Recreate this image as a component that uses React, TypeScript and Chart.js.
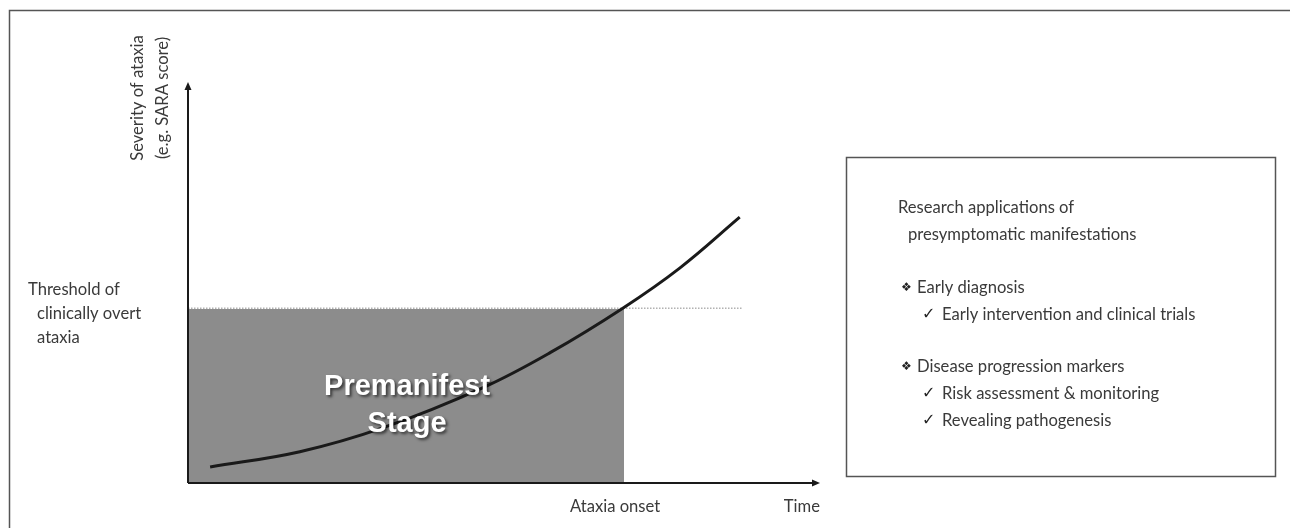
import React, { useEffect, useRef } from "react";
import { Chart, registerables } from "chart.js";

Chart.register(...registerables);

// ---- data ----
const timeValues = [3.5, 17.7, 30.9, 46.7, 57.3, 68.8, 77.8, 87.3];
const severityValues = [4.0, 7.8, 13.8, 23.8, 32.5, 43.6, 53.6, 66.3];
const thresholdSeverity = 43.6;
const onsetTime = 69;
const thresholdLineEnd = 87.8;
const xTickValues = [onsetTime, 100];
const xTickLabels = ["Ataxia onset", "Time"];
const yTitleLines = ["Severity of ataxia", "(e.g. SARA score)"];
const thresholdLabelLines = ["Threshold of", "clinically overt", "ataxia"];
const stageLabelLines = ["Premanifest", "Stage"];
const boxHeadingLines = ["Research applications of", "presymptomatic manifestations"];
const groupTitles = ["Early diagnosis", "Disease progression markers"];
const groupOneItems = ["Early intervention and clinical trials"];
const groupTwoItems = ["Risk assessment & monitoring", "Revealing pathogenesis"];

const FONT = "Lato, 'DejaVu Sans', sans-serif";
const TEXT = "#3a3a3a";
const TEXT_FONT = `400 16.6px ${FONT}`;

const overlayPlugin = {
  id: "overlay",
  afterDatasetsDraw(chart: any) {
    const ctx = chart.ctx as CanvasRenderingContext2D;
    const x = chart.scales.x;
    const y = chart.scales.y;
    const left = x.getPixelForValue(0);
    const right = x.getPixelForValue(100);
    const bottom = y.getPixelForValue(0);
    const top = y.getPixelForValue(100);
    ctx.save();

    // outer frame
    ctx.strokeStyle = "#555";
    ctx.lineWidth = 1.5;
    ctx.beginPath();
    ctx.moveTo(9.5, chart.height);
    ctx.lineTo(9.5, 10.5);
    ctx.lineTo(chart.width, 10.5);
    ctx.stroke();

    // axes with arrows
    ctx.strokeStyle = "#1a1a1a";
    ctx.fillStyle = "#1a1a1a";
    ctx.lineWidth = 2;
    ctx.beginPath();
    ctx.moveTo(left, bottom);
    ctx.lineTo(right - 6, bottom);
    ctx.moveTo(left, bottom);
    ctx.lineTo(left, top + 6);
    ctx.stroke();
    ctx.beginPath();
    ctx.moveTo(right, bottom);
    ctx.lineTo(right - 8, bottom - 3.5);
    ctx.lineTo(right - 8, bottom + 3.5);
    ctx.closePath();
    ctx.fill();
    ctx.beginPath();
    ctx.moveTo(left, top);
    ctx.lineTo(left - 3.5, top + 8);
    ctx.lineTo(left + 3.5, top + 8);
    ctx.closePath();
    ctx.fill();

    // x labels
    ctx.fillStyle = TEXT;
    ctx.font = TEXT_FONT;
    ctx.textBaseline = "middle";
    ctx.textAlign = "center";
    ctx.fillText(xTickLabels[0], x.getPixelForValue(xTickValues[0]) - 9, bottom + 24);
    ctx.textAlign = "right";
    ctx.fillText(xTickLabels[1], x.getPixelForValue(xTickValues[1]), bottom + 24);

    // y title
    ctx.save();
    ctx.translate(left - 50, 98);
    ctx.rotate(-Math.PI / 2);
    ctx.textAlign = "center";
    ctx.fillText(yTitleLines[0], 0, 0);
    ctx.fillText(yTitleLines[1], 0, 25);
    ctx.restore();

    // threshold label
    ctx.textAlign = "left";
    const thY = y.getPixelForValue(thresholdSeverity);
    ctx.fillText(thresholdLabelLines[0], 28, thY - 19);
    ctx.fillText(thresholdLabelLines[1], 37, thY + 5);
    ctx.fillText(thresholdLabelLines[2], 37, thY + 29);

    // stage label
    ctx.save();
    ctx.font = "bold 29px 'Liberation Sans', Arial, sans-serif";
    ctx.textAlign = "center";
    ctx.fillStyle = "#ffffff";
    ctx.shadowColor = "rgba(0,0,0,0.6)";
    ctx.shadowBlur = 3;
    ctx.shadowOffsetX = 2;
    ctx.shadowOffsetY = 2;
    const cx = (left + x.getPixelForValue(onsetTime)) / 2 + 1;
    ctx.fillText(stageLabelLines[0], cx, 387);
    ctx.fillText(stageLabelLines[1], cx, 424);
    ctx.restore();

    // right box
    ctx.strokeStyle = "#555";
    ctx.lineWidth = 1.5;
    ctx.strokeRect(846.5, 157.5, 429, 319);

    ctx.fillStyle = TEXT;
    ctx.font = TEXT_FONT;
    ctx.textAlign = "left";
    ctx.fillText(boxHeadingLines[0], 898, 208);
    ctx.fillText(boxHeadingLines[1], 908, 235);

    const drawGroup = (title: string, items: string[], y0: number) => {
      ctx.font = "12px 'DejaVu Sans', sans-serif";
      ctx.fillStyle = "#222";
      ctx.fillText("\u2756", 901, y0);
      ctx.fillStyle = TEXT;
      ctx.font = TEXT_FONT;
      ctx.fillText(title, 917, y0);
      items.forEach((it, i) => {
        const yy = y0 + 27 + i * 26.5;
        ctx.font = "16px 'DejaVu Sans', sans-serif";
        ctx.fillStyle = "#222";
        ctx.fillText("\u2713", 922, yy);
        ctx.fillStyle = TEXT;
        ctx.font = TEXT_FONT;
        ctx.fillText(it, 942, yy);
      });
    };
    drawGroup(groupTitles[0], groupOneItems, 288);
    drawGroup(groupTitles[1], groupTwoItems, 367);

    ctx.restore();
  },
};

export default function App() {
  const ref = useRef<HTMLCanvasElement | null>(null);
  useEffect(() => {
    if (!ref.current) return;
    const chart = new Chart(ref.current, {
      type: "line",
      data: {
        datasets: [
          {
            label: "Severity",
            data: timeValues.map((t, i) => ({ x: t, y: severityValues[i] })),
            borderColor: "#1a1a1a",
            borderWidth: 3,
            tension: 0.4,
            pointRadius: 0,
            fill: false,
            order: 0,
          },
          {
            label: "Threshold",
            data: [
              { x: 0, y: thresholdSeverity },
              { x: thresholdLineEnd, y: thresholdSeverity },
            ],
            borderColor: "#8a8a8a",
            borderWidth: 1,
            borderDash: [1.5, 1.5],
            pointRadius: 0,
            fill: false,
            order: 1,
          },
          {
            label: "Premanifest",
            data: [
              { x: 0, y: thresholdSeverity - 0.2 },
              { x: onsetTime, y: thresholdSeverity - 0.2 },
            ],
            borderWidth: 0,
            borderColor: "rgba(0,0,0,0)",
            backgroundColor: "#8c8c8c",
            pointRadius: 0,
            fill: "origin",
            order: 2,
          },
        ],
      },
      options: {
        animation: false,
        responsive: true,
        maintainAspectRatio: false,
        layout: { padding: { left: 188, right: 470, top: 82, bottom: 45 } },
        plugins: { legend: { display: false }, tooltip: { enabled: false } },
        events: [],
        scales: {
          x: { type: "linear", min: 0, max: 100, display: false },
          y: { type: "linear", min: 0, max: 100, display: false },
        },
      },
      plugins: [overlayPlugin],
    } as any);
    return () => chart.destroy();
  }, []);
  return (
    <div style={{ position: "absolute", left: 0, top: 0, width: 1290, height: 528, background: "#fff" }}>
      <canvas ref={ref} />
    </div>
  );
}
